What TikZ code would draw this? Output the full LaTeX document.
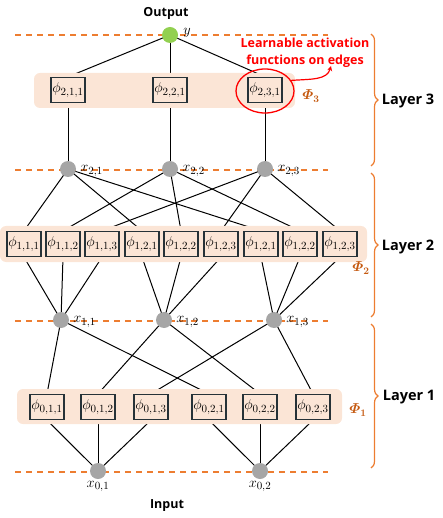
\documentclass[tikz,border=0pt]{standalone}
\usepackage{amsmath,bm}
\usepackage{fontspec}
\setsansfont{Open Sans}
\usetikzlibrary{positioning,calc,shapes.geometric,decorations.pathreplacing,arrows.meta}
\definecolor{kanorange}{RGB}{237,125,49}
\definecolor{kanrust}{RGB}{197,90,17}
\definecolor{kanpeach}{RGB}{251,229,214}
\definecolor{kanslate}{RGB}{38,50,56}
\definecolor{kangray}{RGB}{166,166,166}
\definecolor{kangreen}{RGB}{146,208,80}
\definecolor{kanred}{RGB}{255,0,0}
\pgfdeclarelayer{background}
\pgfsetlayers{background,main}

\begin{document}
\begin{tikzpicture}[
  x=1pt,y=-1pt,
  every node/.style={font=\fontsize{15}{17}\selectfont},
  neuron/.style={circle,fill=kangray,minimum size=16pt,inner sep=0pt},
  xlbl/.style={inner sep=0pt,yshift=-2pt},
  actbox/.style={rectangle,draw=kanslate,line width=1.3pt,fill=kanpeach,
    minimum width=34pt,minimum height=25pt,inner sep=0.5pt},
  band/.style={fill=kanpeach,rounded corners=6pt},
  levelline/.style={kanorange,line width=1.2pt,dash pattern=on 6pt off 5pt},
  layerbrace/.style={kanorange,line width=1.2pt,decorate,decoration={brace,amplitude=7pt}},
  headtxt/.style={font=\sffamily\bfseries\fontsize{12.5}{15}\selectfont},
  laytxt/.style={font=\sffamily\bfseries\fontsize{14.5}{17}\selectfont},
  philbl/.style={text=kanrust,font=\fontsize{14}{16}\selectfont},
  wire/.style={black,line width=1pt}
]
\useasboundingbox (0,0) rectangle (442,518);

% neurons
\node[headtxt] (outtxt) at (166,13) {Output};
\node[neuron,fill=kangreen] (yout) at (170,35) {};
\node[xlbl,right=5pt of yout,yshift=4pt] (ylbl) {$y$};
\node[neuron] (xc1) at (68,169) {};
\node[neuron] (xc2) at (170,169) {};
\node[neuron] (xc3) at (265,169) {};
\node[neuron] (xb1) at (61,320) {};
\node[neuron] (xb2) at (164,320) {};
\node[neuron] (xb3) at (274,320) {};
\node[neuron] (xa1) at (98,471) {};
\node[neuron] (xa2) at (260,471) {};
\foreach \n/\lab in {xc1/{2,1},xc2/{2,2},xc3/{2,3},xb1/{1,1},xb2/{1,2},xb3/{1,3}}
  \node[xlbl,right=4pt of \n] (\n lbl) {$x_{\lab}$};
\node[inner sep=0pt,below=2pt of xa1] (xa1lbl) {$x_{0,1}$};
\node[inner sep=0pt,below=2pt of xa2] (xa2lbl) {$x_{0,2}$};
\node[headtxt] (intxt) at (167,506) {Input};

% layer 3
\node[actbox] (phiC1) at (68,90) {$\phi_{2,1,1}$};
\node[actbox] (phiC2) at (170,90) {$\phi_{2,2,1}$};
\node[actbox] (phiC3) at (265,90) {$\phi_{2,3,1}$};
\foreach \k in {1,2,3}{
  \begin{pgfonlayer}{background}
    \draw[wire] (phiC\k.north) -- (yout.center);
    \draw[wire] (phiC\k.south) -- (xc\k.center);
  \end{pgfonlayer}
}

% layer 2
\foreach \k/\px/\q/\p/\lab in {1/24/1/1/{1,1,1},2/63/1/2/{1,1,2},3/102/1/3/{1,1,3},
    4/142/2/1/{1,2,1},5/181/2/2/{1,2,2},6/221/2/3/{1,2,3},
    7/261/3/1/{1,2,1},8/300/3/2/{1,2,2},9/340/3/3/{1,2,3}}{
  \node[actbox] (phiB\k) at (\px,244) {$\phi_{\lab}$};
  \begin{pgfonlayer}{background}
    \draw[wire] (phiB\k.north) -- (xc\p.center);
    \draw[wire] (phiB\k.south) -- (xb\q.center);
  \end{pgfonlayer}
}

% layer 1
\foreach \k/\px/\q/\p/\lab in {1/47/1/1/{0,1,1},2/98/1/2/{0,1,2},3/151/1/3/{0,1,3},
    4/209/2/1/{0,2,1},5/260/2/2/{0,2,2},6/313/2/3/{0,2,3}}{
  \node[actbox] (phiA\k) at (\px,407) {$\phi_{\lab}$};
  \begin{pgfonlayer}{background}
    \draw[wire] (phiA\k.north) -- (xb\p.center);
    \draw[wire] (phiA\k.south) -- (xa\q.center);
  \end{pgfonlayer}
}

% bands and level lines
\begin{pgfonlayer}{background}
  \fill[band] (34,73) rectangle (295,108);
  \fill[band] (0,226) rectangle (367,262);
  \fill[band] (17,389) rectangle (342,424);
  \foreach \ly in {35,170,321,472}
    \draw[levelline] (15,\ly) -- (328,\ly);
\end{pgfonlayer}

\node[philbl] (phi3) at (311,96) {$\bm{\varPhi_3}$};
\node[philbl] (phi2) at (361,268) {$\bm{\varPhi_2}$};
\node[philbl] (phi1) at (358,410) {$\bm{\varPhi_1}$};

% highlight
\node[ellipse,draw=kanred,line width=1.3pt,minimum width=58pt,minimum height=44pt] (hl) at (265,91) {};
\node[text=kanred,font=\sffamily\bfseries\fontsize{12.5}{16.5}\selectfont,align=center] (note) at (305,53)
  {Learnable activation\\functions on edges};
\coordinate (tip) at (331,66);
\draw[kanred,line width=1.2pt,-{Stealth[length=5pt,width=5pt]}] (hl.22) .. controls (312,79) and (327,80) .. (tip);

% layers
\draw[layerbrace] (371,34) -- (371,166);
\draw[layerbrace] (371,173) -- (371,317);
\draw[layerbrace] (371,324) -- (371,468);
\node[laytxt] (lay3) at (408,101) {Layer 3};
\node[laytxt] (lay2) at (408,247) {Layer 2};
\node[laytxt] (lay1) at (409,397) {Layer 1};
\end{tikzpicture}
\end{document}
